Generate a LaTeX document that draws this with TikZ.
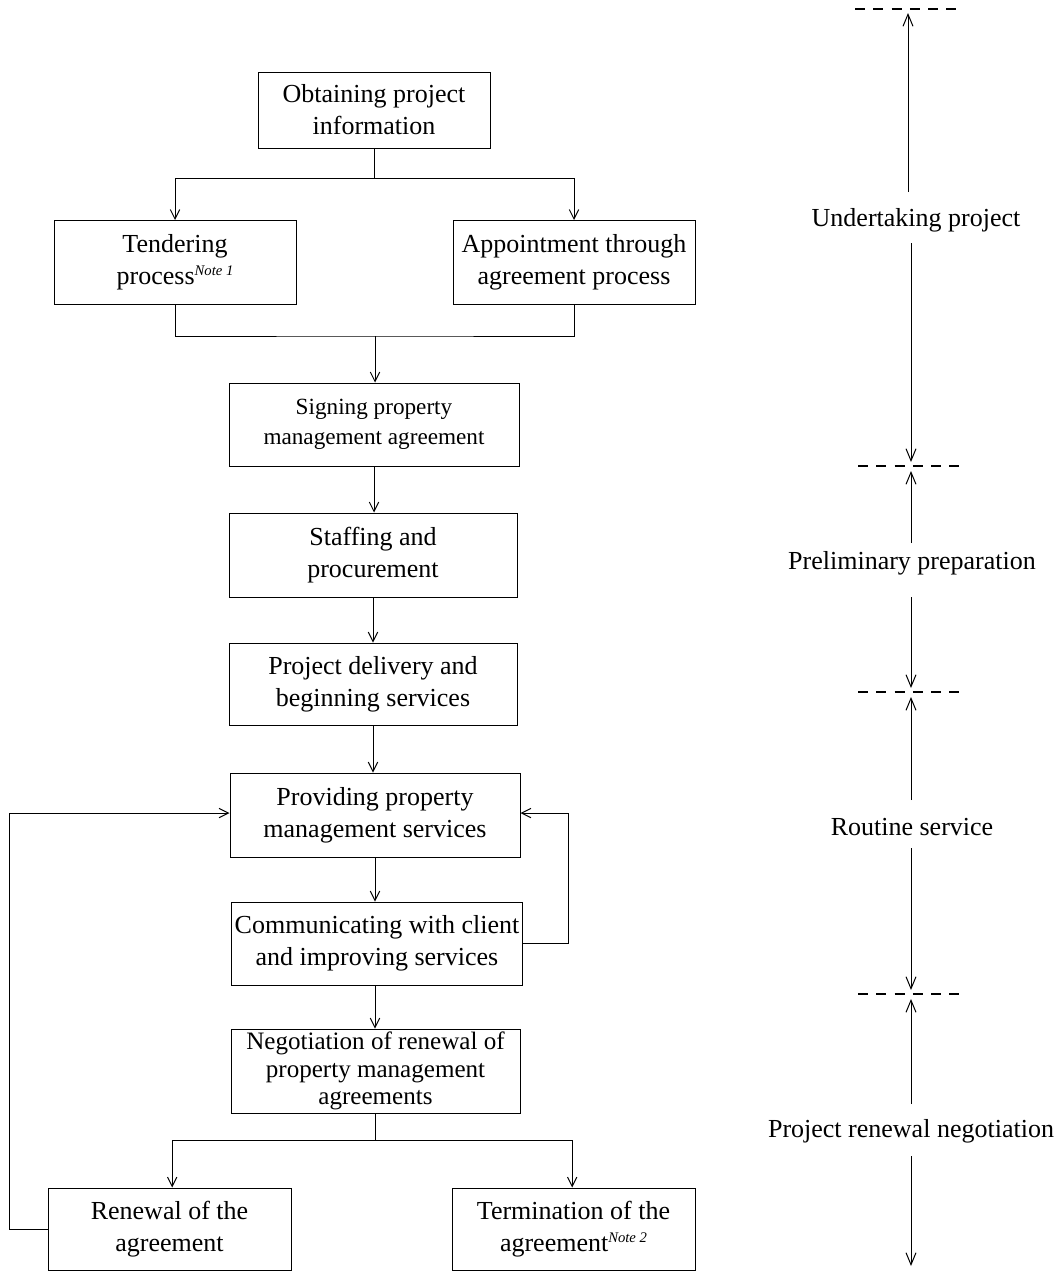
\documentclass[tikz,border=0pt]{standalone}
\usepackage{fontspec}
\setmainfont{Liberation Serif}
\usetikzlibrary{arrows.meta}

\newcommand\boxfont{\fontsize{19.5}{24}\selectfont}
\newcommand\signfont{\fontsize{17.4}{22.5}\selectfont}
\newcommand\negofont{\fontsize{18.8}{20.6}\selectfont}
\newcommand\notemark[1]{\raisebox{7pt}{\fontsize{11}{11}\selectfont\itshape #1}}

\tikzset{
  flowbox/.style={draw, line width=0.75pt, align=center, inner sep=0pt, font=\boxfont},
  line/.style={line width=0.75pt},
  arr/.style={line, -{Straight Barb[length=7pt,width=7pt,line width=0.75pt]}},
  tarr/.style={line, -{Straight Barb[length=9pt,width=7.5pt,line width=0.75pt]}},
  stagesep/.style={line width=0.9pt, dash pattern=on 7.5pt off 6.2pt},
  phase/.style={inner sep=0pt, font=\boxfont},
}

\begin{document}
\begin{tikzpicture}[x=0.75pt, y=-0.75pt]
\useasboundingbox (0,0) rectangle (1061,1271);

% main flow
\node[flowbox, minimum width=174pt, minimum height=57pt] (obtain) at (374,110)
  {Obtaining project\\information};
\node[flowbox, minimum width=181.5pt, minimum height=63pt] (tender) at (175,262.5)
  {Tendering\\process\notemark{Note 1}};
\node[flowbox, minimum width=181.5pt, minimum height=63pt] (appoint) at (574,262.5)
  {Appointment through\\agreement process};
\node[flowbox, font=\signfont, minimum width=217.5pt, minimum height=62.25pt] (sign) at (374,424.5)
  {Signing property\\management agreement};
\node[flowbox, minimum width=216pt, minimum height=63pt] (staff) at (373,555)
  {Staffing and\\procurement};
\node[flowbox, minimum width=216pt, minimum height=61.5pt] (deliver) at (373,684)
  {Project delivery and\\beginning services};
\node[flowbox, minimum width=217.5pt, minimum height=63pt] (provide) at (375,815)
  {Providing property\\management services};
\node[flowbox, minimum width=218.25pt, minimum height=62.25pt] (comm) at (377,943.5)
  {Communicating with client\\and improving services};
\node[flowbox, font=\negofont, minimum width=216.75pt, minimum height=63pt] (nego) at (375.5,1071)
  {Negotiation of renewal of\\property management\\agreements};
\node[flowbox, minimum width=182.25pt, minimum height=61.5pt] (renew) at (169.5,1229)
  {Renewal of the\\agreement};
\node[flowbox, minimum width=182.25pt, minimum height=61.5pt] (term) at (573.5,1229)
  {Termination of the\\agreement\notemark{Note 2}};

% connectors
\draw[line] (obtain.south) -- ++(0,30) coordinate (split1);
\draw[arr] (split1) -| (tender.north);
\draw[arr] (split1) -| (appoint.north);

\coordinate (join1) at (375,336);
\draw[line] (tender.south) |- (join1) -| (appoint.south);
\draw[arr] (join1) -- (join1 |- sign.north);

\draw[arr] (sign.south) -- (sign.south |- staff.north);
\draw[arr] (staff.south) -- (staff.south |- deliver.north);
\draw[arr] (deliver.south) -- (deliver.south |- provide.north);
\draw[arr] (provide.south) -- (provide.south |- comm.north);
\draw[arr] ([xshift=-1.5pt]comm.south) -- ([xshift=-1.5pt]comm.south |- nego.north);

% feedback loops
\draw[arr] (comm.east) -- ++(45,0) |- ([yshift=1.5pt]provide.east);
\draw[arr] (renew.west) -- ++(-38,0) |- ([yshift=1.5pt]provide.west);

\draw[line] (nego.south) -- ++(0,27) coordinate (split2);
\draw[arr] (split2) -| ([xshift=2pt]renew.north);
\draw[arr] (split2) -| ([xshift=-1pt]term.north);

% stage separators
\draw[stagesep] (855,9) -- (960,9);
\draw[stagesep] (858,466) -- (963,466);
\draw[stagesep] (858,692) -- (963,692);
\draw[stagesep] (858,994) -- (963,994);

% stage labels
\node[phase] (ph1) at (916,220) {Undertaking project};
\node[phase] (ph2) at (912,563) {Preliminary preparation};
\node[phase] (ph3) at (912,827) {Routine service};
\node[phase] (ph4) at (911,1131) {Project renewal negotiation};

% stage spans
\coordinate (a1) at (908,192); \coordinate (b1) at (908,13);
\coordinate (c1) at (911,243); \coordinate (d1) at (911,462);
\coordinate (a2) at (911,543); \coordinate (b2) at (911,471);
\coordinate (c2) at (911,597); \coordinate (d2) at (911,688);
\coordinate (a3) at (911,800); \coordinate (b3) at (911,697);
\coordinate (c3) at (911,848); \coordinate (d3) at (911,990);
\coordinate (a4) at (911,1104); \coordinate (b4) at (911,999);
\coordinate (c4) at (911,1156); \coordinate (d4) at (911,1266);
\draw[tarr] (a1) -- (b1);
\draw[tarr] (c1) -- (d1);
\draw[tarr] (a2) -- (b2);
\draw[tarr] (c2) -- (d2);
\draw[tarr] (a3) -- (b3);
\draw[tarr] (c3) -- (d3);
\draw[tarr] (a4) -- (b4);
\draw[tarr] (c4) -- (d4);
\end{tikzpicture}
\end{document}
